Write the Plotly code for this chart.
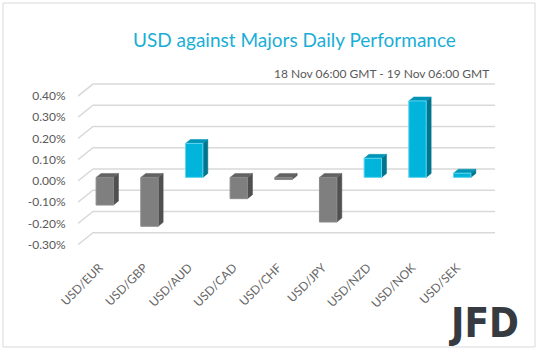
import plotly.graph_objects as go

# ---- data ----
categories = ["USD/EUR", "USD/GBP", "USD/AUD", "USD/CAD", "USD/CHF",
              "USD/JPY", "USD/NZD", "USD/NOK", "USD/SEK"]
values = [-0.13, -0.23, 0.16, -0.10, -0.01, -0.21, 0.09, 0.36, 0.02]
y_ticks = [0.40, 0.30, 0.20, 0.10, 0.00, -0.10, -0.20, -0.30]
y_tick_labels = ["0.40%", "0.30%", "0.20%", "0.10%", "0.00%", "-0.10%", "-0.20%", "-0.30%"]
title_text = "USD against Majors Daily Performance"
subtitle_text = "18 Nov 06:00 GMT - 19 Nov 06:00 GMT"

# ---- layout geometry (pixels) ----
W, H = 538, 351
L, R, T, B = 78, 43, 80, 103
PW, PH = W - L - R, H - T - B
X0, X1 = -0.5, 8.836
Y0, Y1 = -0.3154, 0.4755
px_per_x = PW / (X1 - X0)
px_per_y = PH / (Y1 - Y0)

DEPTH_X = 15 / px_per_x      # full floor depth offset in data units
DEPTH_Y = 12 / px_per_y

def px2paperx(px):
    return (px - L) / PW

def px2papery(py):
    return (T + PH - py) / PH

fig = go.Figure()

# gridlines (3D: diagonal on the left "floor", then horizontal on back wall)
for v in y_ticks:
    fig.add_trace(go.Scatter(
        x=[X0, X0 + DEPTH_X, X1], y=[v, v + DEPTH_Y, v + DEPTH_Y],
        mode="lines", line=dict(color="#d9d9d9", width=1.5),
        hoverinfo="skip", showlegend=False))

# bars as pseudo-3D prisms
BAR_W = 0.39
D1, D2 = 0.30, 0.63
for i, v in enumerate(values):
    pos = v >= 0
    front_c = "#00b4dc" if pos else "#7f7f7f"
    side_c = "#00758e" if pos else "#505050"
    top_c = "#0094b6" if pos else "#626262"
    edge_c = "#5fd6f0" if pos else "#8a8a8a"
    cx = i + D1 * DEPTH_X
    xl, xr = cx - BAR_W / 2, cx + BAR_W / 2
    yo = D1 * DEPTH_Y
    top = max(v, 0) + yo
    bot = min(v, 0) + yo
    ddx = (D2 - D1) * DEPTH_X
    ddy = (D2 - D1) * DEPTH_Y
    # side face
    fig.add_trace(go.Scatter(
        x=[xr, xr, xr + ddx, xr + ddx, xr], y=[top, bot, bot + ddy, top + ddy, top],
        mode="lines", fill="toself", fillcolor=side_c, line=dict(color=side_c, width=0.5),
        hoverinfo="skip", showlegend=False))
    # top face
    fig.add_trace(go.Scatter(
        x=[xl, xr, xr + ddx, xl + ddx, xl], y=[top, top, top + ddy, top + ddy, top],
        mode="lines", fill="toself", fillcolor=top_c, line=dict(color=top_c, width=0.5),
        hoverinfo="skip", showlegend=False))
    # front face
    fig.add_trace(go.Scatter(
        x=[xl, xr, xr, xl, xl], y=[top, top, bot, bot, top],
        mode="lines", fill="toself", fillcolor=front_c, line=dict(color=edge_c, width=1),
        hoverinfo="skip", showlegend=False))

fig.update_layout(
    width=W, height=H,
    margin=dict(l=L, r=R, t=T, b=B, pad=0),
    paper_bgcolor="white", plot_bgcolor="white",
    font=dict(family="Lato, Open Sans, sans-serif", color="#595959", size=12),
    xaxis=dict(range=[X0, X1], showgrid=False, zeroline=False, showline=False,
               tickmode="array", tickvals=[i - 0.02 for i in range(len(categories))],
               ticktext=categories, tickangle=-45, ticks="outside", ticklen=7,
               tickcolor="rgba(0,0,0,0)", tickfont=dict(size=12, color="#666666"),
               fixedrange=True),
    yaxis=dict(range=[Y0, Y1], showgrid=False, zeroline=False, showline=False,
               tickmode="array", tickvals=y_ticks, ticktext=y_tick_labels,
               ticks="outside", ticklen=9, tickcolor="rgba(0,0,0,0)",
               tickfont=dict(size=12, color="#595959"), fixedrange=True),
    showlegend=False,
)

# border around chart
fig.add_shape(type="rect", xref="paper", yref="paper",
              x0=px2paperx(3), x1=px2paperx(535), y0=px2papery(347), y1=px2papery(3),
              line=dict(color="#d9d9d9", width=1), fillcolor="rgba(0,0,0,0)", layer="below")

# title & subtitle
fig.add_annotation(text=title_text, xref="paper", yref="paper",
                   x=px2paperx(294), y=px2papery(40), xanchor="center", yanchor="middle",
                   showarrow=False, font=dict(size=19, color="#1aaed6",
                                              family="Lato, Open Sans, sans-serif"))
fig.add_annotation(text=subtitle_text, xref="paper", yref="paper",
                   x=px2paperx(491), y=px2papery(74), xanchor="right", yanchor="middle",
                   showarrow=False, font=dict(size=12, color="#595959",
                                              family="Lato, Open Sans, sans-serif"))
# logo text
fig.add_annotation(text="<b>JFD</b>", xref="paper", yref="paper",
                   x=px2paperx(521), y=px2papery(323), xanchor="right", yanchor="middle",
                   showarrow=False, font=dict(size=40, color="#363b42",
                                              family="Liberation Sans Narrow, DejaVu Sans Condensed, sans-serif"))

fig.write_html("out.html", config={"displayModeBar": False})
